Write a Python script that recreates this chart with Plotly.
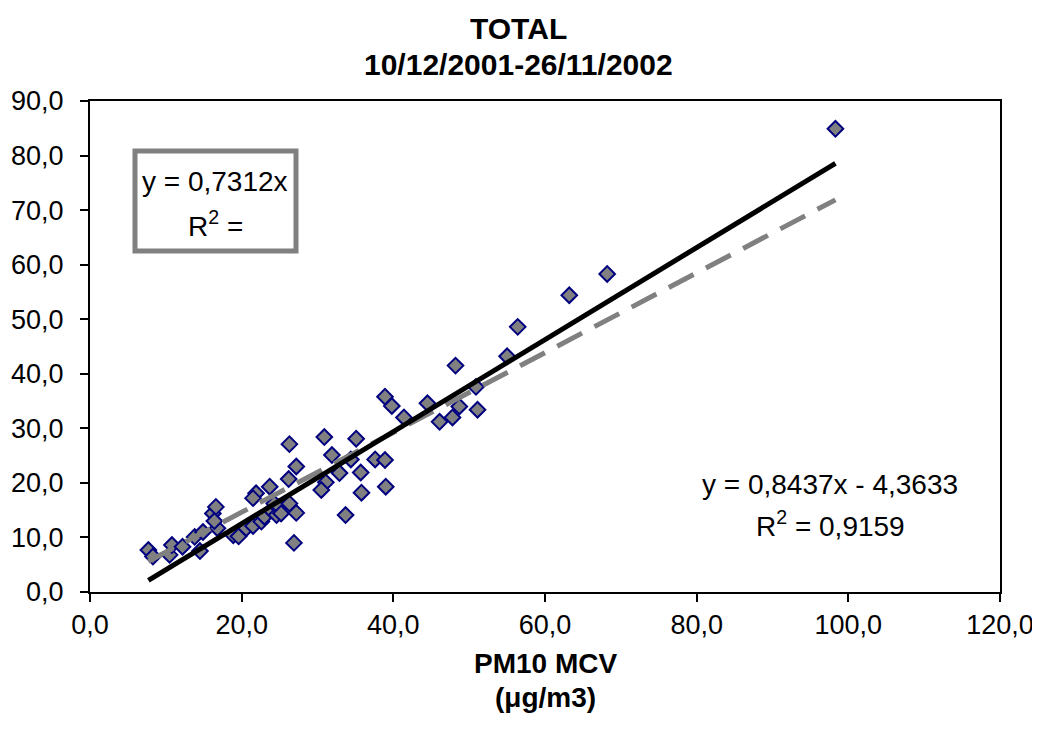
import plotly.graph_objects as go

# ---- data ----
pm10_mcv = [7.7, 8.3, 10.5, 10.8, 12.2, 13.8, 14.5, 14.9, 16.2, 16.6,
            16.8, 16.4, 18.9, 19.6, 20.6, 21.5, 21.9, 21.5, 22.6, 23.0,
            23.7, 23.9, 24.3, 24.6, 25.0, 25.2, 26.3, 27.2, 26.2, 27.2,
            26.3, 26.9, 30.9, 31.9, 31.1, 30.5, 32.9, 33.7, 34.4, 35.1,
            35.7, 35.8, 37.6, 38.9, 39.0, 38.9, 39.8, 41.4, 44.5, 46.1,
            47.8, 48.7, 48.2, 50.9, 51.1, 55.0, 56.4, 63.2, 68.2, 98.3]
pm10_other = [7.7, 6.5, 6.8, 8.6, 8.3, 10.1, 7.5, 11.0, 14.4, 15.6,
              11.7, 13.0, 10.4, 10.2, 11.7, 12.1, 18.1, 17.2, 12.9, 13.8,
              19.3, 15.0, 16.2, 14.1, 15.6, 14.4, 16.2, 14.5, 20.7, 23.0,
              27.1, 9.0, 28.4, 25.1, 20.1, 18.7, 21.8, 14.1, 24.3, 28.1,
              21.9, 18.2, 24.3, 24.2, 19.3, 35.8, 34.1, 32.0, 34.6, 31.2,
              32.0, 34.0, 41.5, 37.6, 33.4, 43.2, 48.6, 54.4, 58.3, 84.9]

slope_origin = 0.7312
slope_lin, intercept_lin = 0.8437, -4.3633
title_lines = ["TOTAL", "10/12/2001-26/11/2002"]
xtitle_lines = ["PM10 MCV", "(μg/m3)"]
eq1_lines = ["y = 0,7312x", "R<sup>2</sup> ="]
eq2_lines = ["y = 0,8437x - 4,3633", "R<sup>2</sup> = 0,9159"]

FONT = "Liberation Sans, Arial, sans-serif"

xr = [min(pm10_mcv), max(pm10_mcv)]

fig = go.Figure()
fig.add_trace(go.Scatter(
    x=pm10_mcv, y=pm10_other, mode="markers",
    marker=dict(symbol="diamond", size=12, color="#808080",
                line=dict(color="#000080", width=2)),
    showlegend=False, hoverinfo="skip"))
fig.add_trace(go.Scatter(
    x=xr, y=[slope_origin * v for v in xr], mode="lines",
    line=dict(color="#808080", width=5, dash="28px,14px"),
    showlegend=False, hoverinfo="skip"))
fig.add_trace(go.Scatter(
    x=xr, y=[slope_lin * v + intercept_lin for v in xr], mode="lines",
    line=dict(color="#000000", width=5),
    showlegend=False, hoverinfo="skip"))

# page has an 8px body margin: compensate so the plot lands where intended
OFF = 8
PAGE_W, PAGE_H = 1040, 738
PL, PR, PT, PB = 90, 1000, 101, 592       # plot area in page pixels
W, H = PAGE_W - OFF, PAGE_H - OFF
L, T = PL - OFF, PT - OFF
R = W - (PR - OFF)
B = H - (PB - OFF)
PW, PH = PR - PL, PB - PT


def xp(px):
    return (px - PL) / PW


def yp(py):
    return (PB - py) / PH


ann = []
ann.append(dict(text="<b>%s</b>" % title_lines[0], x=xp(518), y=yp(29),
                font=dict(family=FONT, size=30, color="black")))
ann.append(dict(text="<b>%s</b>" % title_lines[1], x=xp(518), y=yp(65),
                font=dict(family=FONT, size=30, color="black")))
ann.append(dict(text="<b>%s</b>" % xtitle_lines[0], x=xp(545), y=yp(663),
                font=dict(family=FONT, size=28, color="black")))
ann.append(dict(text="<b>%s</b>" % xtitle_lines[1], x=xp(545), y=yp(697),
                font=dict(family=FONT, size=28, color="black")))
eq = [
    dict(text=eq1_lines[0], x=xp(215), y=yp(181)),
    dict(text=eq1_lines[1], x=xp(215), y=yp(224)),
    dict(text=eq2_lines[0], x=xp(830), y=yp(484)),
    dict(text=eq2_lines[1], x=xp(830), y=yp(524)),
]
for a in eq:
    a.update(font=dict(family=FONT, size=28, color="black"))
ann += eq
for a in ann:
    a.update(xref="paper", yref="paper", showarrow=False,
             xanchor="center", yanchor="middle")

fig.update_layout(
    width=W, height=H,
    margin=dict(l=L, r=R, t=T, b=B, pad=0, autoexpand=False),
    paper_bgcolor="white", plot_bgcolor="white",
    separators=",.",
    annotations=ann,
    shapes=[dict(type="rect", xref="paper", yref="paper",
                 x0=xp(135), x1=xp(296), y0=yp(251), y1=yp(151),
                 line=dict(color="#808080", width=5), fillcolor="white",
                 layer="above")],
    font=dict(family=FONT, size=26, color="black"),
)
fig.update_xaxes(range=[0, 120], dtick=20, tick0=0, tickformat=".1f",
                 automargin=False,
                 showgrid=False, zeroline=False,
                 showline=True, linecolor="black", linewidth=2, mirror=True,
                 ticks="outside", ticklen=8, tickwidth=2, tickcolor="black",
                 tickfont=dict(family=FONT, size=27, color="black"))
fig.update_yaxes(range=[0, 90], dtick=10, tick0=0, tickformat=".1f",
                 automargin=False, ticklabelstandoff=11,
                 showgrid=False, zeroline=False,
                 showline=True, linecolor="black", linewidth=2, mirror=True,
                 ticks="outside", ticklen=8, tickwidth=2, tickcolor="black",
                 tickfont=dict(family=FONT, size=27, color="black"))

fig.write_html("out.html")
